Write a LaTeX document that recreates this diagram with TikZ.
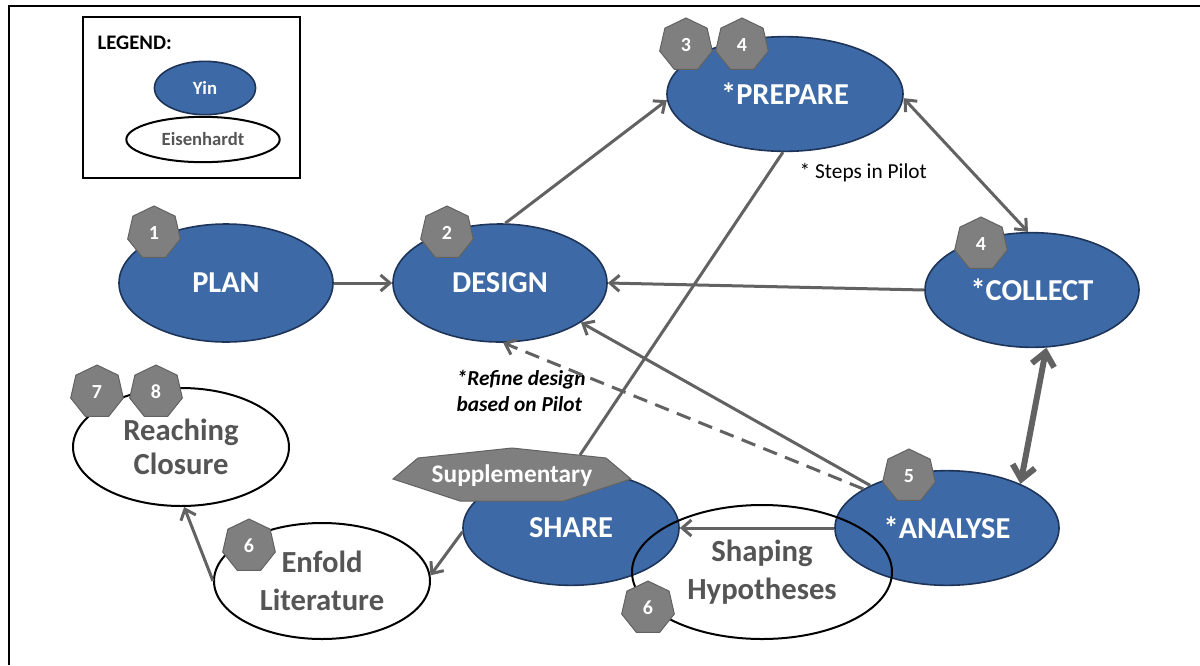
\documentclass[tikz,border=0pt]{standalone}
\usepackage{fontspec}
\setmainfont{Carlito}
\usetikzlibrary{shapes.geometric,arrows.meta}
\definecolor{yinblue}{RGB}{61,106,166}
\definecolor{yinedge}{RGB}{30,52,88}
\definecolor{badgegray}{RGB}{127,127,127}
\definecolor{badgeedge}{RGB}{98,98,98}
\definecolor{linegray}{RGB}{98,98,98}
\definecolor{textgray}{RGB}{85,85,85}
\begin{document}
\begin{tikzpicture}[x=0.75pt,y=-0.75pt,
  yin/.style={ellipse, fill=yinblue, draw=yinedge, line width=1.2pt, inner sep=0pt,
    text=white, font=\bfseries\fontsize{22.8}{26}\selectfont},
  eis/.style={ellipse, draw=black, line width=1.5pt, inner sep=0pt, text=textgray,
    align=center, font=\bfseries\fontsize{23}{27}\selectfont},
  badge/.style={regular polygon, regular polygon sides=7, minimum size=40.5pt, inner sep=0pt,
    fill=badgegray, draw=badgeedge, line width=0.75pt, text=white,
    font=\bfseries\fontsize{15}{18}\selectfont},
  conn/.style={draw=linegray, line width=2.25pt},
  arr/.style={-{Straight Barb[length=7pt,width=12pt]}},
  arrboth/.style={{Straight Barb[length=7pt,width=12pt]}-{Straight Barb[length=7pt,width=12pt]}},
  bigconn/.style={draw=linegray, line width=4.5pt,
    {Straight Barb[length=10pt,width=17pt]}-{Straight Barb[length=10pt,width=17pt]}},
  dashconn/.style={draw=linegray, line width=2.25pt, dash pattern=on 11pt off 6.5pt}
]
\useasboundingbox (0,0) rectangle (1200,665);
% outer frame
\draw[line width=2pt] (9,665) -- (9,6) -- (1200,6);

% legend
\draw[line width=1.5pt] (83,17) rectangle (300,178);
\node[anchor=west, font=\bfseries\fontsize{15.5}{18}\selectfont] (legtitle) at (93,43) {LEGEND:};
\node[yin, minimum width=76pt, minimum height=40pt, font=\bfseries\fontsize{14}{16}\selectfont] (lyin) at (205,88) {Yin};
\node[eis, minimum width=115pt, minimum height=34pt, font=\bfseries\fontsize{14}{16}\selectfont] (leis) at (203,139.5) {Eisenhardt};

% Yin nodes
\node[yin, minimum width=160.5pt, minimum height=88.5pt] (plan) at (226,283) {PLAN};
\node[yin, minimum width=160.5pt, minimum height=88.5pt] (design) at (500,283) {DESIGN};
\node[yin, minimum width=177pt, minimum height=86pt] (prepare) at (785,94) {*PREPARE};
\node[yin, minimum width=160.5pt, minimum height=86pt] (collect) at (1032,290) {*COLLECT};
\node[yin, minimum width=168pt, minimum height=86pt] (analyse) at (947,528) {*ANALYSE};
\node[yin, minimum width=162pt, minimum height=86pt] (share) at (571,528) {SHARE};

% Eisenhardt nodes
\node[eis, fill=white, minimum width=162pt, minimum height=88.5pt, font=\bfseries\fontsize{23}{26}\selectfont] (reaching) at (181,447) {Reaching\\Closure};
\node[eis, fill=white, minimum width=162pt, minimum height=87pt, font=\bfseries\fontsize{23}{29}\selectfont] (enfold) at (322,581) {Enfold\\Literature};
\node[eis, minimum width=195pt, minimum height=100.5pt, font=\bfseries\fontsize{23}{28}\selectfont] (shaping) at (762,572) {Shaping\\Hypotheses};

% Supplementary tag
\fill[badgegray, draw=badgeedge, line width=0.75pt]
  (512,448) -- (606,458) -- (631,479) -- (564,501) -- (460,501) -- (393,479) -- (418,458) -- cycle;
\node[text=white, font=\bfseries\fontsize{19}{22}\selectfont] (supp) at (512,476) {Supplementary};
\coordinate (supptop) at (580,455);

% badges
\node[badge] (b1) at (154,233) {1};
\node[badge] (b2) at (447,233) {2};
\node[badge] (b3) at (686,45) {3};
\node[badge] (b4a) at (742,45) {4};
\node[badge] (b4b) at (981,244) {4};
\node[badge] (b5) at (909,476) {5};
\node[badge] (b6a) at (249,546) {6};
\node[badge] (b6b) at (648,608) {6};
\node[badge] (b7) at (97,392) {7};
\node[badge] (b8) at (156,392) {8};

% notes
\node[anchor=west, font=\fontsize{16}{19}\selectfont] (steps) at (795,173) {* Steps in Pilot};
\node[anchor=west, align=left, font=\bfseries\itshape\fontsize{16}{19.5}\selectfont] (refine) at (452,391) {*Refine design\\based on Pilot};

% connectors
\draw[conn, arr] (plan.east) -- (design.west);
\draw[conn, arr] (design.85) -- (prepare.183);
\draw[conn, arrboth] (prepare.-2) -- (collect.94);
\draw[conn, arr] (collect.west) -- (design.east);
\draw[conn, arr] (analyse.151) -- (design.-26);
\draw[dashconn, arr] (analyse.155) -- (design.-87);
\draw[conn] (supptop) -- (prepare.268);
\draw[conn, arr] (share.182) -- (enfold.3);
\draw[conn, arr] (enfold.west) -- (reaching.-87);
\draw[conn, arr] (analyse.west) -- (share.east);
\draw[bigconn] (collect.-76) -- (analyse.31);
\end{tikzpicture}
\end{document}
